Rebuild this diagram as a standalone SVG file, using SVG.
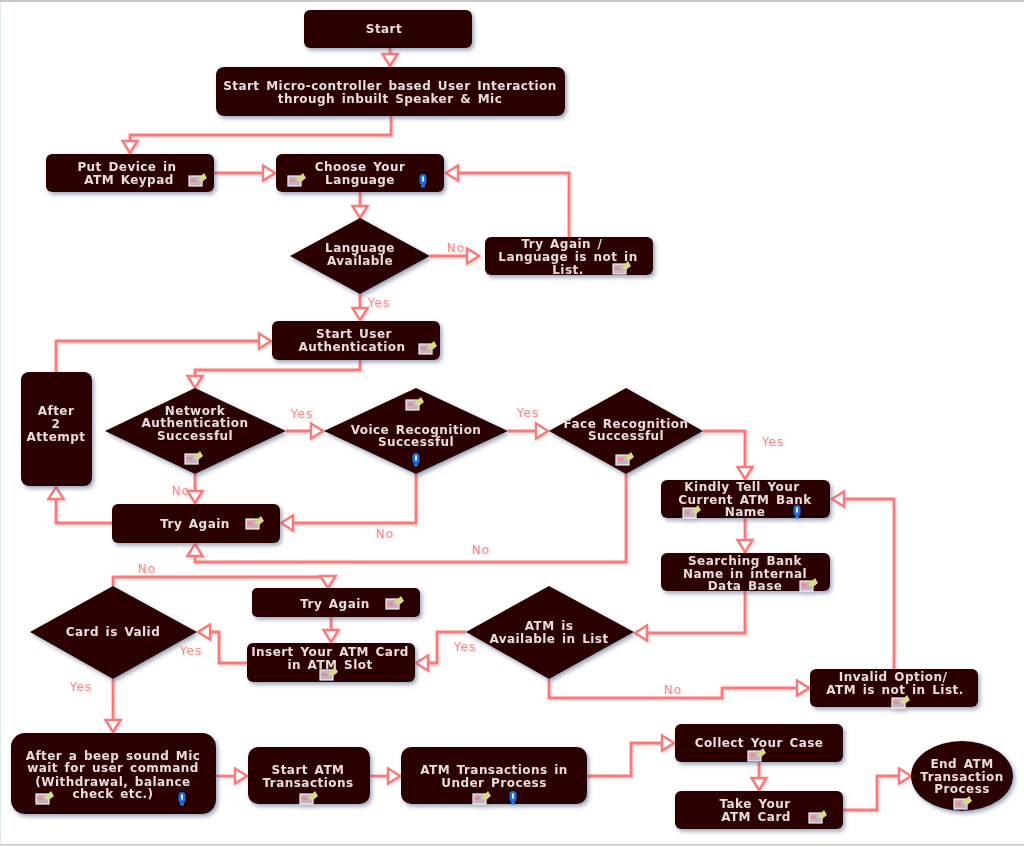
<svg xmlns="http://www.w3.org/2000/svg" width="1024" height="847" viewBox="0 0 1024 847">
<style>
.node rect,.node polygon,.node ellipse{fill:#2b0000}
.node{filter:url(#sh)}
.node text{font-family:"DejaVu Sans",Verdana,sans-serif;font-size:12px;font-weight:700;letter-spacing:.45px;word-spacing:2px;fill:#e9dcdc;text-anchor:middle}
.c path{fill:none;stroke:#f97a7a;stroke-width:2.8;marker-end:url(#a)}
.c{filter:url(#sl)}
.l text{font-family:"DejaVu Sans",Verdana,sans-serif;font-size:12px;letter-spacing:1px;fill:#f98c8c;text-anchor:middle}
.l{filter:url(#sl)}
</style>
<defs>
<filter id="sh" x="-10%" y="-20%" width="125%" height="150%"><feGaussianBlur in="SourceGraphic" stdDeviation="0.55" result="b"/><feDropShadow in="b" dx="2" dy="2.5" stdDeviation="2" flood-color="#5a6a8a" flood-opacity="0.6"/></filter>
<filter id="sl" x="-5%" y="-5%" width="110%" height="110%"><feGaussianBlur in="SourceGraphic" stdDeviation="0.45" result="b"/><feDropShadow in="b" dx="1.5" dy="1.5" stdDeviation="1.2" flood-color="#c0a0a0" flood-opacity="0.45"/></filter>
<marker id="a" markerUnits="userSpaceOnUse" markerWidth="20" markerHeight="22" refX="15" refY="10" orient="auto"><path d="M3,2.5 L15,10 L3,17.5 Z" fill="#fff" stroke="#f97a7a" stroke-width="2.4"/></marker>
<g id="ic"><rect x="-9" y="-4" width="13" height="10" fill="#c4b2c4" stroke="#f4eef0" stroke-width="1.2"/><rect x="-7" y="-1" width="5" height="3" fill="#e98c9a"/><path d="M6,-7 L9,-2 L4,2 L-1,0 Z" fill="#d6dc80"/></g>
<g id="mic"><rect x="-3.5" y="-7" width="7" height="11" rx="3.5" fill="#1b6fe0"/><rect x="-1" y="-4.5" width="2" height="5" fill="#e6efff"/><rect x="-2" y="4" width="4" height="2.5" fill="#1b6fe0"/></g>
</defs>
<rect width="1024" height="847" fill="#fff"/>
<rect x="0" y="0" width="1024" height="2" fill="#c8c8c8"/>
<rect x="0" y="844" width="1024" height="1.5" fill="#c8c8c8"/>
<rect x="0" y="2" width="1" height="842" fill="#dfe8ea"/>
<g id="connectors" class="c">
<path d="M390,47V66"/>
<path d="M391,116V135H130V153"/>
<path d="M214,173H275"/>
<path d="M360,192V218"/>
<path d="M430,256H479"/>
<path d="M569,237V173H446"/>
<path d="M360,293V320"/>
<path d="M360,359V370H195V388"/>
<path d="M286,431H323"/>
<path d="M508,431H548"/>
<path d="M703,431H745V479"/>
<path d="M195,473V503"/>
<path d="M416,473V523H281"/>
<path d="M626,473V562H195V544"/>
<path d="M112,523H56V487"/>
<path d="M56,372V341H271"/>
<path d="M745,518V552"/>
<path d="M745,591V633H635"/>
<path d="M466,632H437V663H416"/>
<path d="M549,679V698H722V688H809"/>
<path d="M894,669V499H832"/>
<path d="M113,586V577H328V588"/>
<path d="M331,617V642"/>
<path d="M247,663H219V632H198"/>
<path d="M113,679V732"/>
<path d="M216,776H247"/>
<path d="M370,776H400"/>
<path d="M587,776H631V743H674"/>
<path d="M759,762V790"/>
<path d="M843,810H877V776H911"/>
</g>
<g id="n-start" class="node"><rect x="304" y="10" width="168" height="38" rx="6"/><text x="384" y="33">Start</text></g>
<g id="n-micro" class="node"><rect x="216" y="67" width="349" height="49" rx="8"/><text x="390" y="90">Start Micro-controller based User Interaction</text><text x="390" y="103">through inbuilt Speaker &amp; Mic</text></g>
<g id="n-put" class="node"><rect x="46" y="154" width="168" height="38" rx="6"/><text x="127" y="171">Put Device in</text><text x="129" y="184">ATM Keypad</text><use href="#ic" x="198" y="180"/></g>
<g id="n-choose" class="node"><rect x="276" y="154" width="168" height="38" rx="6"/><text x="360" y="171">Choose Your</text><text x="360" y="184">Language</text><use href="#ic" x="297" y="180"/><use href="#mic" x="423" y="181"/></g>
<g id="n-lang" class="node"><polygon points="290,256 360,218 430,256 360,294"/><text x="360" y="252">Language</text><text x="360" y="265">Available</text></g>
<g id="n-tryl" class="node"><rect x="485" y="237" width="168" height="38" rx="6"/><text x="562" y="248">Try Again /</text><text x="568" y="261">Language is not in</text><text x="568" y="274">List.</text><use href="#ic" x="622" y="268"/></g>
<g id="n-auth" class="node"><rect x="272" y="321" width="168" height="39" rx="6"/><text x="354" y="338">Start User</text><text x="352" y="351">Authentication</text><use href="#ic" x="428" y="348"/></g>
<g id="n-after" class="node"><rect x="21" y="372" width="71" height="114" rx="8"/><text x="56" y="415">After</text><text x="56" y="428">2</text><text x="56" y="441">Attempt</text></g>
<g id="n-net" class="node"><polygon points="105,431 195,388 286,431 195,474"/><text x="195" y="415">Network</text><text x="195" y="427">Authentication</text><text x="195" y="440">Successful</text><use href="#ic" x="194" y="458"/></g>
<g id="n-voice" class="node"><polygon points="324,431 416,388 508,431 416,474"/><text x="416" y="434">Voice Recognition</text><text x="416" y="446">Successful</text><use href="#ic" x="415" y="404"/><use href="#mic" x="416" y="460"/></g>
<g id="n-face" class="node"><polygon points="549,431 626,388 703,431 626,474"/><text x="626" y="428">Face Recognition</text><text x="626" y="440">Successful</text><use href="#ic" x="625" y="459"/></g>
<g id="n-try" class="node"><rect x="112" y="504" width="168" height="39" rx="6"/><text x="195" y="528">Try Again</text><use href="#ic" x="255" y="523"/></g>
<g id="n-kindly" class="node"><rect x="661" y="480" width="169" height="38" rx="6"/><text x="742" y="491">Kindly Tell Your</text><text x="745" y="504">Current ATM Bank</text><text x="745" y="516">Name</text><use href="#ic" x="692" y="512"/><use href="#mic" x="797" y="512"/></g>
<g id="n-search" class="node"><rect x="661" y="553" width="169" height="38" rx="6"/><text x="745" y="565">Searching Bank</text><text x="745" y="578">Name in internal</text><text x="745" y="590">Data Base</text><use href="#ic" x="809" y="585"/></g>
<g id="n-atm" class="node"><polygon points="466,632 549,586 634,632 549,679"/><text x="549" y="630">ATM is</text><text x="549" y="643">Available in List</text></g>
<g id="n-invalid" class="node"><rect x="810" y="669" width="168" height="38" rx="6"/><text x="893" y="681">Invalid Option/</text><text x="895" y="694">ATM is not in List.</text><use href="#ic" x="901" y="702"/></g>
<g id="n-try2" class="node"><rect x="252" y="588" width="168" height="29" rx="5"/><text x="335" y="608">Try Again</text><use href="#ic" x="395" y="603"/></g>
<g id="n-insert" class="node"><rect x="247" y="643" width="168" height="39" rx="6"/><text x="330" y="656">Insert Your ATM Card</text><text x="330" y="669">in ATM Slot</text><use href="#ic" x="329" y="674"/></g>
<g id="n-card" class="node"><polygon points="30,632 113,586 197,632 113,679"/><text x="113" y="636">Card is Valid</text></g>
<g id="n-beep" class="node"><rect x="11" y="733" width="205" height="81" rx="14"/><text x="113" y="760">After a beep sound Mic</text><text x="113" y="772">wait for user command</text><text x="113" y="786">(Withdrawal, balance</text><text x="113" y="798">check etc.)</text><use href="#ic" x="45" y="798"/><use href="#mic" x="182" y="799"/></g>
<g id="n-startatm" class="node"><rect x="248" y="747" width="122" height="57" rx="10"/><text x="308" y="774">Start ATM</text><text x="308" y="787">Transactions</text><use href="#ic" x="309" y="798"/></g>
<g id="n-trans" class="node"><rect x="401" y="747" width="186" height="57" rx="10"/><text x="494" y="774">ATM Transactions in</text><text x="494" y="787">Under Process</text><use href="#ic" x="482" y="798"/><use href="#mic" x="513" y="798"/></g>
<g id="n-collect" class="node"><rect x="675" y="724" width="168" height="38" rx="6"/><text x="759" y="747">Collect Your Case</text><use href="#ic" x="757" y="755"/></g>
<g id="n-take" class="node"><rect x="675" y="791" width="168" height="38" rx="6"/><text x="755" y="808">Take Your</text><text x="756" y="821">ATM Card</text><use href="#ic" x="818" y="817"/></g>
<g id="n-end" class="node"><ellipse cx="962" cy="776" rx="51" ry="35"/><text x="962" y="768">End ATM</text><text x="962" y="781">Transaction</text><text x="962" y="793">Process</text><use href="#ic" x="963" y="803"/></g>
<g id="labels" class="l">
<text x="456" y="252">No</text><text x="379" y="307">Yes</text><text x="302" y="418">Yes</text><text x="528" y="417">Yes</text><text x="773" y="446">Yes</text><text x="181" y="495">No</text><text x="385" y="538">No</text><text x="481" y="554">No</text><text x="147" y="573">No</text><text x="191" y="655">Yes</text><text x="465" y="651">Yes</text><text x="81" y="691">Yes</text><text x="673" y="694">No</text>
</g>
</svg>
